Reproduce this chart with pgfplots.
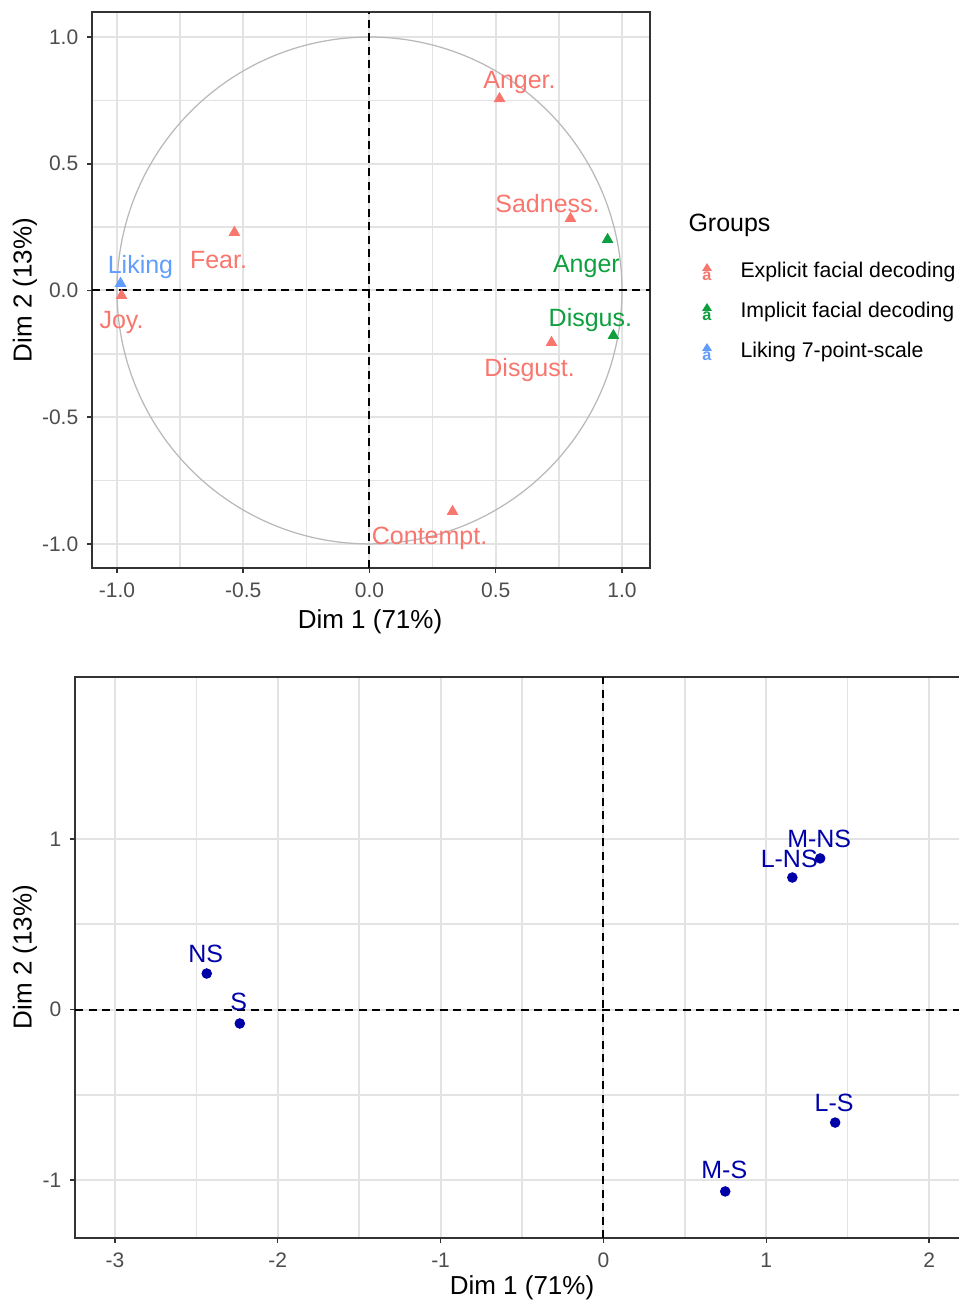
\documentclass[border=0pt]{standalone}
\usepackage{pgfplots}
\pgfplotsset{compat=1.18}
\usepackage{fontspec}
\setmainfont{Liberation Sans}

\definecolor{expl}{HTML}{F8766D}
\definecolor{impl}{HTML}{0E9F3E}
\definecolor{lik}{HTML}{619CFF}
\definecolor{indiv}{HTML}{0000A8}
\definecolor{gray30}{HTML}{4D4D4D}
\definecolor{gray20}{HTML}{333333}
\definecolor{gridc}{HTML}{E3E3E3}

\newcommand{\fs}[1]{\fontsize{#1bp}{#1bp}\selectfont}

\pgfplotsset{
  pcabox/.style={
    scale only axis,
    clip=false,
    axis line style={gray20, line width=0.6bp},
    tick style={gray20, line width=0.6bp},
    tick align=outside,
    major tick length=2bp,
    minor tick length=0pt,
    xtick pos=left, ytick pos=left,
    grid=both,
    major grid style={gridc, line width=0.8bp},
    minor grid style={gridc, line width=0.6bp},
    ticklabel style={font=\fs{8.4}, text=gray30},
    xticklabel style={yshift=-0.6bp},
    minor x tick num=1, minor y tick num=1,
  },
}
\tikzset{lbl/.style={font=\fs{10}, inner sep=0pt, yshift=-1bp}}

\begin{document}
\begin{tikzpicture}[x=0.4bp, y=0.4bp]
\useasboundingbox (0,0) rectangle (959,1303);

% ---- variables plot ----
\begin{axis}[pcabox,
  at={(36.8bp,516.4bp)}, anchor=north west,
  width=223.2bp, height=222.4bp,
  xmin=-1.099, xmax=1.111, ymin=-1.095, ymax=1.099,
  xtick={-1,-0.5,0,0.5,1}, xticklabels={-1.0,-0.5,0.0,0.5,1.0},
  ytick={-1,-0.5,0,0.5,1}, yticklabels={-1.0,-0.5,0.0,0.5,1.0},
]
\draw[gray!55, line width=0.5bp] (axis cs:0,0) ellipse [x radius=1, y radius=1];
\draw[black, line width=0.8bp, dash pattern=on 3.2bp off 2.2bp] (axis cs:0,-1.095) -- (axis cs:0,1.099);
\draw[black, line width=0.8bp, dash pattern=on 3.2bp off 2.2bp] (axis cs:-1.099,0) -- (axis cs:1.111,0);

\addplot[only marks, mark=triangle*, mark size=2.3bp, expl, mark options={draw=none, fill=expl}] coordinates {
  (0.515,0.757) (0.796,0.284) (0.721,-0.205) (0.329,-0.872) (-0.535,0.229) (-0.982,-0.020)
};
\addplot[only marks, mark=triangle*, mark size=2.3bp, impl, mark options={draw=none, fill=impl}] coordinates {
  (0.943,0.201) (0.966,-0.178)
};
\addplot[only marks, mark=triangle*, mark size=2.3bp, lik, mark options={draw=none, fill=lik}] coordinates {
  (-0.986,0.028)
};

\node[lbl, text=expl] at (axis cs:0.594,0.832) {Anger.};
\node[lbl, text=expl] at (axis cs:0.705,0.351) {Sadness.};
\node[lbl, text=impl] at (axis cs:0.859,0.103) {Anger};
\node[lbl, text=impl] at (axis cs:0.875,-0.107) {Disgus.};
\node[lbl, text=expl] at (axis cs:0.634,-0.304) {Disgust.};
\node[lbl, text=expl] at (axis cs:0.238,-0.970) {Contempt.};
\node[lbl, text=expl] at (axis cs:-0.598,0.130) {Fear.};
\node[lbl, text=lik] at (axis cs:-0.907,0.103) {Liking};
\node[lbl, text=expl] at (axis cs:-0.982,-0.118) {Joy.};
\end{axis}

\node[font=\fs{10.4}] at (370,681) {Dim 1 (71\%)};
\node[font=\fs{10.4}, rotate=90] at (25,1013) {Dim 2 (13\%)};

% legend
\node[font=\fs{10}, anchor=west, inner sep=0pt] at (688,1078) {Groups};
\foreach \c/\t/\y in {expl/Explicit facial decoding/1031, impl/Implicit facial decoding/991, lik/Liking 7-point-scale/951}{
  \fill[\c] (702,\y+1) -- (712,\y+1) -- (707,\y+9) -- cycle;
  \node[font=\fs{6.5}\bfseries, text=\c, inner sep=0pt] at (707,\y-4) {a};
  \node[font=\fs{8.5}, anchor=west, inner sep=0pt] at (740,\y) {\t};
}

% ---- individuals plot ----
\begin{axis}[pcabox,
  at={(30bp,250.4bp)}, anchor=north west,
  width=357.6bp, height=224.4bp,
  xmin=-3.245, xmax=2.245, ymin=-1.34, ymax=1.95,
  xtick={-3,-2,-1,0,1,2}, xticklabels={-3,-2,-1,0,1,2},
  ytick={-1,0,1}, yticklabels={-1,0,1},
]
\draw[black, line width=0.8bp, dash pattern=on 3.2bp off 2.2bp] (axis cs:0,-1.34) -- (axis cs:0,1.95);
\draw[black, line width=0.8bp, dash pattern=on 3.2bp off 2.2bp] (axis cs:-3.245,0) -- (axis cs:2.245,0);
\addplot[only marks, mark=*, mark size=1.9bp, indiv, mark options={draw=none, fill=indiv}] coordinates {
  (-2.436,0.211) (-2.233,-0.082) (1.160,0.774) (1.331,0.886) (1.423,-0.663) (0.748,-1.067)
};
\node[lbl, text=indiv] at (axis cs:-2.442,0.340) {NS};
\node[lbl, text=indiv] at (axis cs:-2.239,0.059) {S};
\node[lbl, text=indiv] at (axis cs:1.141,0.897) {L-NS};
\node[lbl, text=indiv] at (axis cs:1.325,1.015) {M-NS};
\node[lbl, text=indiv] at (axis cs:1.417,-0.534) {L-S};
\node[lbl, text=indiv] at (axis cs:0.742,-0.927) {M-S};
\end{axis}

\node[font=\fs{10.4}] at (522,15) {Dim 1 (71\%)};
\node[font=\fs{10.4}, rotate=90] at (25,346) {Dim 2 (13\%)};
\end{tikzpicture}
\end{document}
